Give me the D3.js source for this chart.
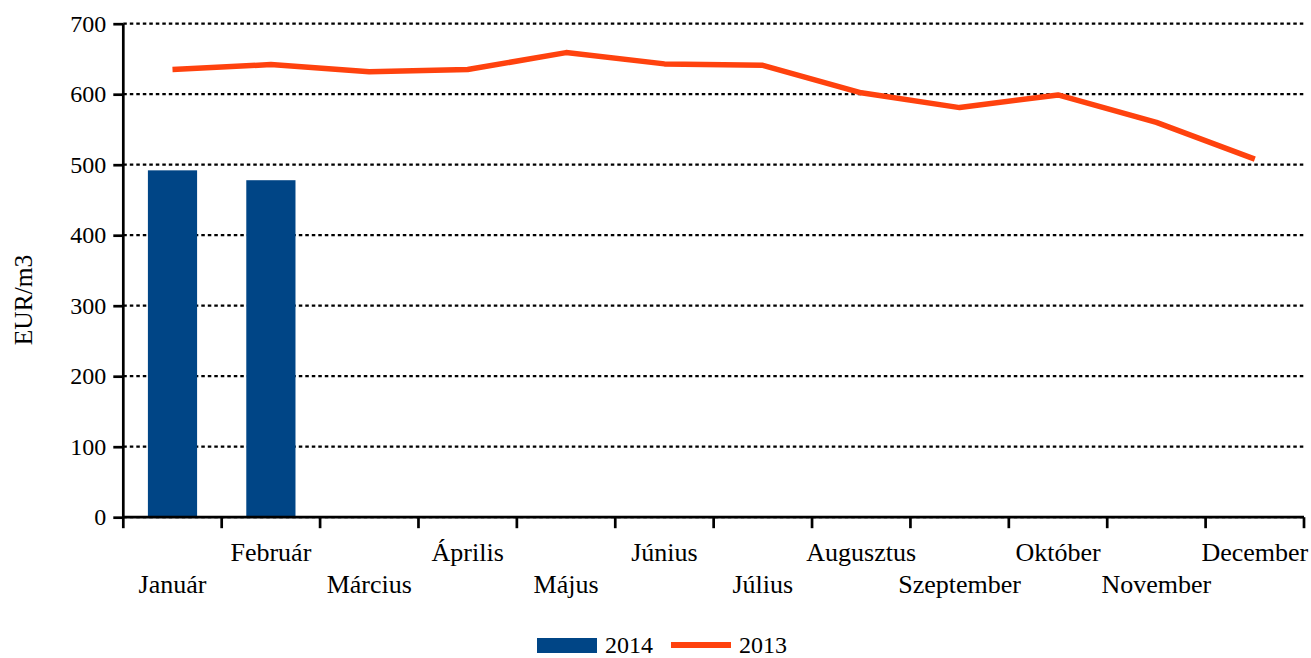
<!DOCTYPE html>
<html>
<head>
<meta charset="utf-8">
<script src="https://cdn.jsdelivr.net/npm/d3@7"></script>
<style>
  body { margin: 0; background: #fff; }
  svg { display: block; font-family: "Liberation Serif", "Times New Roman", serif; }
  svg text { font-family: "Liberation Serif", "Times New Roman", serif; }
</style>
</head>
<body>
<svg id="chart"></svg>
<script>
// monthly prices, EUR/m3
const months = ["Január", "Február", "Március", "Április", "Május", "Június",
                "Július", "Augusztus", "Szeptember", "Október", "November", "December"];
const values2014 = [492, 478];
const values2013 = [635, 642, 632, 635, 659, 643, 641, 602, 581, 599, 560, 508];
const yTicks = [0, 100, 200, 300, 400, 500, 600, 700];

const W = 1311, H = 658;
const margin = { top: 23.7, right: 7, bottom: 140.8, left: 123.3 };
const width = W - margin.left - margin.right,
      height = H - margin.top - margin.bottom;

const svg = d3.select("#chart").attr("width", W).attr("height", H);
const g = svg.append("g").attr("transform", `translate(${margin.left},${margin.top})`);

const x = d3.scaleBand().domain(months).range([0, width]).padding(0);
const y = d3.scaleLinear().domain([0, 700]).range([height, 0]);
const bw = x.bandwidth();

// dotted grid lines
g.append("g")
  .selectAll("line")
  .data(yTicks)
  .join("line")
  .attr("x1", 0).attr("x2", width)
  .attr("y1", d => y(d)).attr("y2", d => y(d))
  .attr("stroke", "#000")
  .attr("stroke-width", 2.2)
  .attr("stroke-dasharray", "3.5,3");

// bars 2014
g.append("g")
  .selectAll("rect")
  .data(values2014)
  .join("rect")
  .attr("x", (d, i) => x(months[i]) + bw * 0.25)
  .attr("width", bw * 0.5)
  .attr("y", d => y(d))
  .attr("height", d => height - y(d))
  .attr("fill", "#004586");

// line 2013
const line = d3.line()
  .x((d, i) => x(months[i]) + bw / 2)
  .y(d => y(d));

g.append("path")
  .datum(values2013)
  .attr("fill", "none")
  .attr("stroke", "#ff420e")
  .attr("stroke-width", 5.5)
  .attr("stroke-linejoin", "round")
  .attr("d", line);

// y axis
const yAxis = g.append("g")
  .call(d3.axisLeft(y).tickValues(yTicks).tickSize(10).tickPadding(7))
  .attr("font-family", null)
  .attr("font-size", null);
yAxis.select(".domain").attr("stroke-width", 2.7).attr("d", `M0,${height}V0`);
yAxis.selectAll(".tick line").attr("stroke-width", 2.7);
yAxis.selectAll("text")
  .style("font-size", "24px")
  .attr("fill", "#000");

// x axis: ticks on category boundaries
const xAxisG = g.append("g").attr("transform", `translate(0,${height})`);
xAxisG.append("line")
  .attr("x1", 0).attr("x2", width)
  .attr("stroke", "#000").attr("stroke-width", 2.7);
xAxisG.selectAll("line.tk")
  .data(months.concat([null]))
  .join("line")
  .attr("class", "tk")
  .attr("x1", d => d === null ? width : x(d))
  .attr("x2", d => d === null ? width : x(d))
  .attr("y1", 0).attr("y2", 11)
  .attr("stroke", "#000").attr("stroke-width", 2.7);

xAxisG.selectAll("text")
  .data(months)
  .join("text")
  .attr("x", d => x(d) + bw / 2)
  .attr("y", (d, i) => i % 2 === 1 ? 43.5 : 75.5)
  .attr("text-anchor", "middle")
  .style("font-size", "26px")
  .text(d => d);

// y axis title
svg.append("text")
  .attr("transform", "translate(32,300) rotate(-90)")
  .attr("text-anchor", "middle")
  .style("font-size", "25.5px")
  .text("EUR/m3");

// legend
const legend = svg.append("g");
legend.append("rect")
  .attr("x", 537).attr("y", 638).attr("width", 60).attr("height", 15)
  .attr("fill", "#004586");
legend.append("text")
  .attr("x", 605).attr("y", 653)
  .style("font-size", "24px")
  .text("2014");
legend.append("line")
  .attr("x1", 671).attr("x2", 731).attr("y1", 645).attr("y2", 645)
  .attr("stroke", "#ff420e").attr("stroke-width", 6);
legend.append("text")
  .attr("x", 739).attr("y", 653)
  .style("font-size", "24px")
  .text("2013");
</script>
</body>
</html>
